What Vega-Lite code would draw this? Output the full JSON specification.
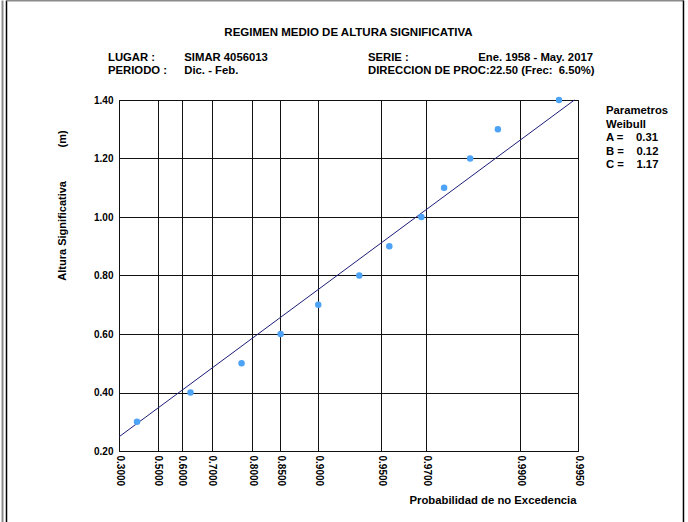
{
  "$schema": "https://vega.github.io/schema/vega-lite/v6.json",
  "width": 459,
  "height": 351,
  "autosize": {"type": "none"},
  "padding": {"left": 119, "top": 100, "right": 110, "bottom": 71},
  "background": "white",
  "config": {
    "font": "Liberation Sans",
    "view": {"stroke": "black", "strokeWidth": 1},
    "text": {"font": "Liberation Sans", "fontWeight": "bold", "fontSize": 11.3, "color": "black"}
  },
  "datasets": {
    "obs": [
      {"t": 0.5613, "altura": 0.30},
      {"t": 0.9974, "altura": 0.40},
      {"t": 1.4140, "altura": 0.50},
      {"t": 1.7325, "altura": 0.60},
      {"t": 2.0396, "altura": 0.70},
      {"t": 2.3744, "altura": 0.80},
      {"t": 2.6194, "altura": 0.90},
      {"t": 2.8808, "altura": 1.00},
      {"t": 3.0662, "altura": 1.10},
      {"t": 3.2785, "altura": 1.20},
      {"t": 3.5048, "altura": 1.30},
      {"t": 4.0030, "altura": 1.40}
    ],
    "ajuste": [
      {"t": 0.41432, "altura": 0.2484},
      {"t": 4.1290, "altura": 1.40}
    ],
    "anotacion": [{}]
  },
  "layer": [
    {
      "data": {"name": "ajuste"},
      "mark": {"type": "line", "color": "#1c1c78", "strokeWidth": 1},
      "encoding": {
        "x": {
          "field": "t", "type": "quantitative",
          "scale": {"domain": [0.41432, 4.15828], "nice": false, "zero": false},
          "axis": {
            "values": [0.41432, 0.73106, 0.92800, 1.17193, 1.50193, 1.72859, 2.03971, 2.55427, 2.92223, 3.68883, 4.15828],
            "labelExpr": "datum.value < 0.5 ? '0.3000' : datum.value < 0.8 ? '0.5000' : datum.value < 1.0 ? '0.6000' : datum.value < 1.3 ? '0.7000' : datum.value < 1.6 ? '0.8000' : datum.value < 1.9 ? '0.8500' : datum.value < 2.3 ? '0.9000' : datum.value < 2.7 ? '0.9500' : datum.value < 3.3 ? '0.9700' : datum.value < 3.9 ? '0.9900' : '0.9950'",
            "labelAngle": 90,
            "labelAlign": "left",
            "labelBaseline": "middle",
            "labelPadding": 4,
            "labelFont": "Liberation Sans",
            "labelFontWeight": "bold",
            "labelFontSize": 10,
            "labelColor": "black",
            "labelOverlap": false,
            "labelFlush": false,
            "labelBound": false,
            "ticks": false,
            "domain": false,
            "grid": true,
            "gridColor": "#111111",
            "gridOpacity": 1,
            "gridWidth": 1,
            "title": "Probabilidad de no Excedencia",
            "titleFont": "Liberation Sans",
            "titleFontWeight": "bold",
            "titleFontSize": 11.3,
            "titleColor": "black",
            "titleAnchor": "end",
            "titleAlign": "right",
            "titleX": 457,
            "titleY": 49,
            "titleBaseline": "middle"
          }
        },
        "y": {
          "field": "altura", "type": "quantitative",
          "scale": {"domain": [0.2, 1.4], "nice": false, "zero": false},
          "axis": {
            "values": [0.2, 0.4, 0.6, 0.8, 1.0, 1.2, 1.4],
            "format": ".2f",
            "labelPadding": 6,
            "labelFont": "Liberation Sans",
            "labelFontWeight": "bold",
            "labelFontSize": 10,
            "labelColor": "black",
            "labelFlush": false,
            "labelOverlap": false,
            "ticks": false,
            "domain": false,
            "grid": true,
            "gridColor": "#111111",
            "gridOpacity": 1,
            "gridWidth": 1,
            "title": "Altura Significativa\u00a0\u00a0\u00a0\u00a0\u00a0\u00a0\u00a0\u00a0\u00a0\u00a0\u00a0(m)",
            "titleFont": "Liberation Sans",
            "titleFontWeight": "bold",
            "titleFontSize": 11,
            "titleColor": "black",
            "titleAngle": -90,
            "titleAlign": "center",
            "titleBaseline": "middle",
            "titleX": -57,
            "titleY": 105
          }
        }
      }
    },
    {
      "data": {"name": "obs"},
      "mark": {"type": "point", "filled": true, "color": "#4da3f5", "size": 42, "opacity": 1},
      "encoding": {
        "x": {"field": "t", "type": "quantitative"},
        "y": {"field": "altura", "type": "quantitative"}
      }
    },
    {
      "data": {"name": "anotacion"},
      "mark": {"type": "text", "align": "center", "baseline": "alphabetic", "fontSize": 11.5},
      "encoding": {
        "x": {"datum": 2.2863, "type": "quantitative"},
        "y": {"datum": 1.6188, "type": "quantitative"},
        "text": {"value": "REGIMEN MEDIO DE ALTURA SIGNIFICATIVA"}
      }
    },
    {
      "data": {"name": "anotacion"},
      "mark": {"type": "text", "align": "left", "baseline": "alphabetic", "lineHeight": 13},
      "encoding": {
        "x": {"datum": 0.3246, "type": "quantitative"},
        "y": {"datum": 1.5333, "type": "quantitative"},
        "text": {"value": ["LUGAR :", "PERIODO :"]}
      }
    },
    {
      "data": {"name": "anotacion"},
      "mark": {"type": "text", "align": "left", "baseline": "alphabetic", "lineHeight": 13},
      "encoding": {
        "x": {"datum": 0.9469, "type": "quantitative"},
        "y": {"datum": 1.5333, "type": "quantitative"},
        "text": {"value": ["SIMAR 4056013", "\u00a0\u00a0Dic. - Feb."]}
      }
    },
    {
      "data": {"name": "anotacion"},
      "mark": {"type": "text", "align": "left", "baseline": "alphabetic", "lineHeight": 13},
      "encoding": {
        "x": {"datum": 2.4453, "type": "quantitative"},
        "y": {"datum": 1.5333, "type": "quantitative"},
        "text": {"value": ["SERIE :", "DIRECCION DE PROC:22.50 (Frec:\u00a0\u00a06.50%)"]}
      }
    },
    {
      "data": {"name": "anotacion"},
      "mark": {"type": "text", "align": "right", "baseline": "alphabetic"},
      "encoding": {
        "x": {"datum": 4.2805, "type": "quantitative"},
        "y": {"datum": 1.5333, "type": "quantitative"},
        "text": {"value": "Ene. 1958 - May. 2017"}
      }
    },
    {
      "data": {"name": "anotacion"},
      "mark": {"type": "text", "align": "left", "baseline": "alphabetic", "lineHeight": 13.5},
      "encoding": {
        "x": {"datum": 4.3865, "type": "quantitative"},
        "y": {"datum": 1.3521, "type": "quantitative"},
        "text": {"value": ["Parametros", "Weibull", "\u00a0A =\u00a0\u00a0\u00a0\u00a00.31", "\u00a0B =\u00a0\u00a0\u00a0\u00a00.12", "\u00a0C =\u00a0\u00a0\u00a0\u00a01.17"]}
      }
    },
    {
      "data": {"name": "anotacion"},
      "mark": {"type": "rule", "color": "#8a8a8a", "strokeWidth": 2},
      "encoding": {
        "x": {"datum": -0.5359, "type": "quantitative"},
        "y": {"datum": 1.7402, "type": "quantitative"},
        "y2": {"datum": -0.0427}
      }
    },
    {
      "data": {"name": "anotacion"},
      "mark": {"type": "rule", "color": "black", "strokeWidth": 1.5},
      "encoding": {
        "x": {"datum": -0.5033, "type": "quantitative"},
        "y": {"datum": 1.7402, "type": "quantitative"},
        "y2": {"datum": -0.0427}
      }
    },
    {
      "data": {"name": "anotacion"},
      "mark": {"type": "rule", "color": "#8a8a8a", "strokeWidth": 2},
      "encoding": {
        "x": {"datum": -0.5033, "type": "quantitative"},
        "x2": {"datum": 5.0187},
        "y": {"datum": 1.7402, "type": "quantitative"}
      }
    },
    {
      "data": {"name": "anotacion"},
      "mark": {"type": "rule", "color": "black", "strokeWidth": 1.5},
      "encoding": {
        "x": {"datum": 5.0187, "type": "quantitative"},
        "y": {"datum": 1.7402, "type": "quantitative"},
        "y2": {"datum": -0.0427}
      }
    }
  ]
}
